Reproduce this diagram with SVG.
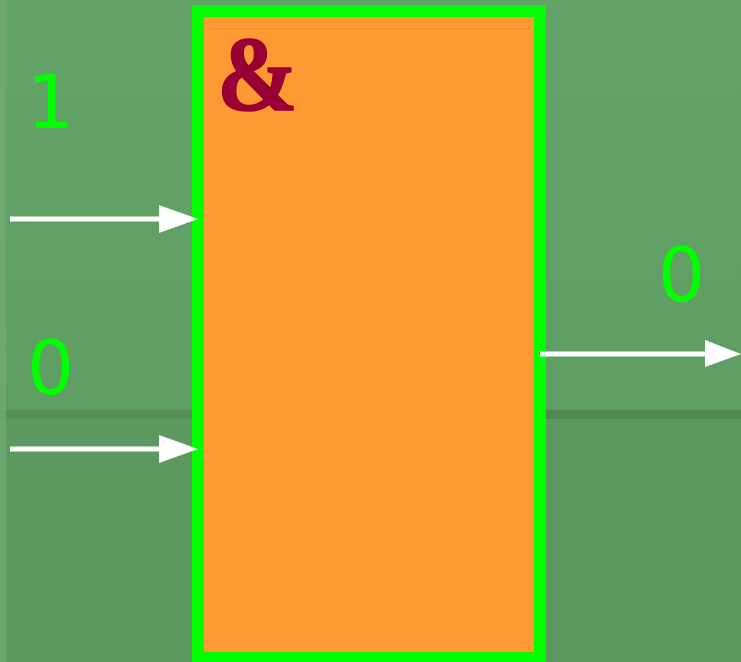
<svg xmlns="http://www.w3.org/2000/svg" width="741" height="662" viewBox="0 0 741 662">
  <style>
    .sig { font-family: "DejaVu Sans", sans-serif; font-size: 74px; fill: #00ff00; }
    .wire { stroke: #ffffff; stroke-width: 5; fill: none; }
    .head { fill: #ffffff; }
  </style>
  <defs>
    <linearGradient id="upper" x1="0" y1="0" x2="0" y2="1">
      <stop offset="0" stop-color="#63a367"/>
      <stop offset="1" stop-color="#5f9e63"/>
    </linearGradient>
  </defs>

  <!-- backdrop -->
  <g id="backdrop">
    <rect x="0" y="0" width="741" height="662" fill="#5b995e"/>
    <rect x="0" y="0" width="741" height="410" fill="url(#upper)"/>
    <rect x="0" y="410" width="741" height="9" fill="#578f5a"/>
    <rect x="540" y="410" width="201" height="9" fill="#528953"/>
    <rect x="0" y="0" width="6" height="662" fill="#70a774" opacity="0.8"/>
  </g>

  <!-- AND gate -->
  <g id="gate">
    <rect x="198" y="11" width="342" height="647" fill="#ff9933" stroke="#00ff00" stroke-width="12"/>
    <text transform="translate(217,110) scale(1,1.1)" font-family="'Liberation Serif', serif" font-weight="bold" font-size="97" fill="#990033" stroke="#990033" stroke-width="1.5">&amp;</text>
  </g>

  <!-- signal values -->
  <g id="in1-label"><text class="sig" x="27" y="128">1</text></g>
  <g id="in2-label"><text class="sig" x="27" y="394">0</text></g>
  <g id="out-label"><text class="sig" x="658" y="301">0</text></g>

  <!-- connectors -->
  <g id="connectors">
    <line class="wire" x1="10" y1="219" x2="162" y2="219"/>
    <polygon class="head" points="159,205 198,219 159,233"/>
    <line class="wire" x1="10" y1="449" x2="162" y2="449"/>
    <polygon class="head" points="159,435 198,449 159,463"/>
    <line class="wire" x1="540" y1="354" x2="708" y2="354"/>
    <polygon class="head" points="705,340 741,354 705,367"/>
  </g>
</svg>
